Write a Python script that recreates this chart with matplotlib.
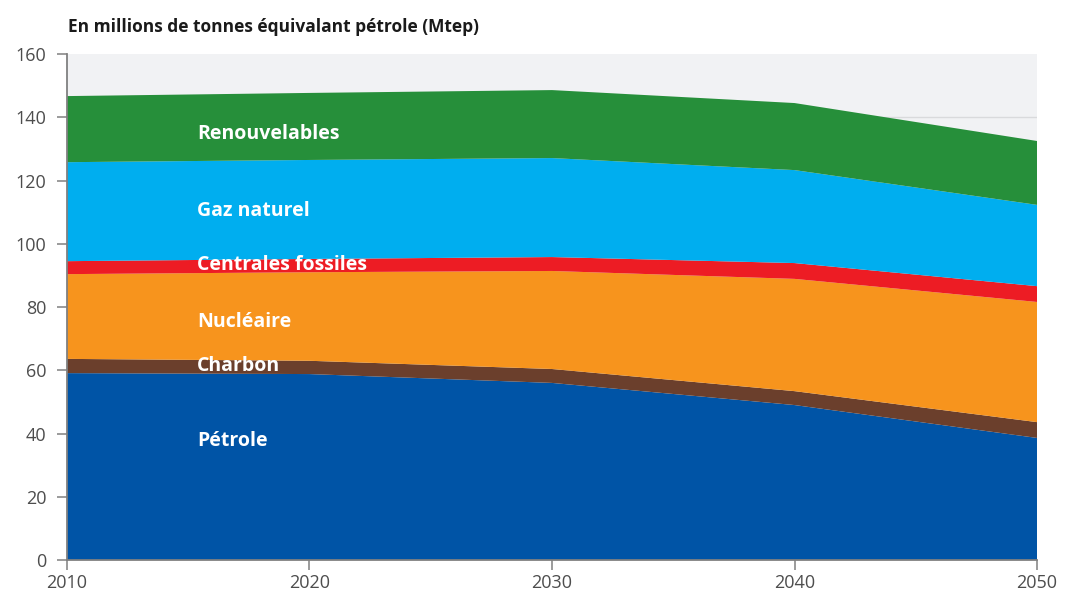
import matplotlib.pyplot as plt

years = [2010, 2020, 2030, 2040, 2050]

# Consommation par source (Mtep)
petrole = [59.1, 58.8, 56.0, 49.0, 38.6]
charbon = [4.5, 4.2, 4.4, 4.4, 5.0]
nucleaire = [26.8, 28.0, 31.0, 35.5, 38.0]
centrales_fossiles = [4.1, 4.2, 4.4, 5.0, 5.0]
gaz_naturel = [31.3, 31.3, 31.3, 29.4, 25.7]
renouvelables = [20.9, 21.2, 21.5, 21.2, 20.2]

series = [petrole, charbon, nucleaire, centrales_fossiles, gaz_naturel, renouvelables]
labels = ['Pétrole', 'Charbon', 'Nucléaire', 'Centrales fossiles', 'Gaz naturel', 'Renouvelables']
colors = ['#0054a6', '#6b3f2c', '#f7941d', '#ed1c24', '#00aeef', '#268f3a']
# label heights inside each band
label_y = [37.5, 61.2, 75.4, 93.4, 110.5, 134.8]

plt.rcParams['font.family'] = ['Open Sans', 'DejaVu Sans']

fig = plt.figure(figsize=(10.7, 5.95), dpi=100)
ax = fig.add_axes([0.0626, 0.0588, 0.9066, 0.8504])
ax.set_facecolor('#f1f2f4')

# light grid lines behind the areas (none on the top edge)
ax.hlines(range(20, 160, 20), 2010, 2050, colors='#d9dadc', linewidth=1, zorder=0)

ax.stackplot(years, *series, colors=colors, linewidth=0)

for name, y in zip(labels, label_y):
    ax.text(2015.36, y, name, color='white', fontsize=14, fontweight='bold',
            va='center', ha='left')

ax.set_xlim(2010, 2050)
ax.set_ylim(0, 160)
ax.set_xticks([2010, 2020, 2030, 2040, 2050])
ax.set_yticks(range(0, 161, 20))

for side in ['top', 'right']:
    ax.spines[side].set_visible(False)
for side in ['left', 'bottom']:
    ax.spines[side].set_color('#808080')
    ax.spines[side].set_linewidth(1.3)
    ax.spines[side].set_zorder(5)

ax.tick_params(axis='both', colors='#8a8a8a', labelcolor='#4d4d4d', labelsize=13,
               length=7, width=1.2)
ax.tick_params(axis='x', pad=3)
ax.tick_params(axis='y', pad=8)

fig.text(0.0636, 0.955, 'En millions de tonnes équivalant pétrole (Mtep)',
         fontsize=12.5, fontweight='bold', color='#1a1a1a', ha='left', va='center')

fig.savefig('out.png', dpi=100)
